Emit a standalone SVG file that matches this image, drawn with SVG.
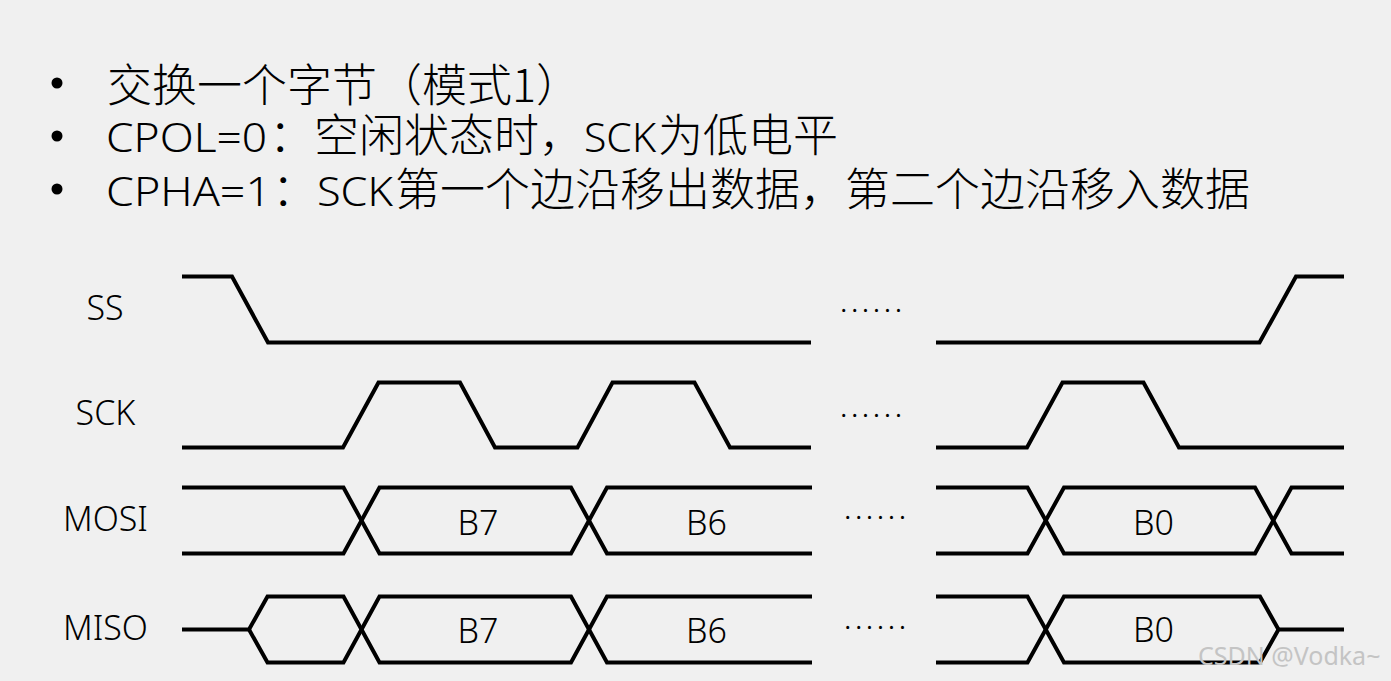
<svg xmlns="http://www.w3.org/2000/svg" width="1391" height="681" viewBox="0 0 1391 681">
<style>
.bg{fill:#f0f0f0}
.t{font-family:"Noto Sans CJK SC","Noto Sans",sans-serif;font-size:45px;fill:#000}
.cjk{font-family:"Noto Sans CJK SC","Noto Sans",sans-serif;font-size:45px;font-weight:300}
.lat{font-family:"Noto Sans","Noto Sans CJK SC",sans-serif;font-size:41px;font-weight:300}
.sig{font-family:"Noto Sans",sans-serif;font-size:34px;font-weight:300;fill:#000;text-anchor:middle}
.dots{font-family:"Noto Sans",sans-serif;font-size:24px;letter-spacing:4.5px;fill:#000}
.wave{fill:none;stroke:#000;stroke-width:4;stroke-linejoin:miter;stroke-linecap:butt}
.wm{font-family:"Noto Sans",sans-serif;font-size:25px;fill:#c4c4c4}
</style>
<rect class="bg" x="0" y="0" width="1391" height="681"/>
<g id="title">
  <circle cx="57" cy="83" r="5.5"/>
  <circle cx="57" cy="136" r="5.5"/>
  <circle cx="57" cy="189" r="5.5"/>
  <text class="t cjk" x="107" y="101.5">交换一个字节（模式1）</text>
  <text class="t" y="152"><tspan class="lat" x="106" textLength="161" lengthAdjust="spacingAndGlyphs">CPOL=0</tspan><tspan class="cjk" x="269">：空闲状态时，</tspan><tspan class="lat" x="584" textLength="72" lengthAdjust="spacingAndGlyphs">SCK</tspan><tspan class="cjk" x="658">为低电平</tspan></text>
  <text class="t" y="205.5"><tspan class="lat" x="106" textLength="165" lengthAdjust="spacingAndGlyphs">CPHA=1</tspan><tspan class="cjk" x="272">：</tspan><tspan class="lat" x="317" textLength="76" lengthAdjust="spacingAndGlyphs">SCK</tspan><tspan class="cjk" x="395">第一个边沿移出数据，第二个边沿移入数据</tspan></text>
</g>
<g id="labels">
  <text class="sig" x="105" y="319.5">SS</text>
  <text class="sig" x="105.5" y="425">SCK</text>
  <text class="sig" x="105.5" y="530.5">MOSI</text>
  <text class="sig" x="105.5" y="640">MISO</text>
</g>
<g id="connectors">
  <g id="ss-wave">
    <path class="wave" d="M182,276.5 H232 L268,342.5 H811"/>
    <path class="wave" d="M936,342.5 H1259.5 L1296,276.5 H1344"/>
  </g>
  <g id="sck-wave">
    <path class="wave" d="M182,447.5 H343 L378.5,382.5 H460 L495,447.5 H577.5 L612.5,382.5 H694.5 L730,447.5 H811"/>
    <path class="wave" d="M936,447.5 H1027 L1062.5,382.5 H1143.5 L1179,447.5 H1344"/>
  </g>
  <g id="mosi-wave">
    <path class="wave" d="M182,487.5 H343.5 L379.5,553.5 H571 L607,487.5 H812"/>
    <path class="wave" d="M182,553.5 H343.5 L379.5,487.5 H571 L607,553.5 H812"/>
    <path class="wave" d="M936,487.5 H1027.5 L1064,553.5 H1255 L1291.5,487.5 H1344"/>
    <path class="wave" d="M936,553.5 H1027.5 L1064,487.5 H1255 L1291.5,553.5 H1344"/>
  </g>
  <g id="miso-wave">
    <path class="wave" d="M182,629.5 H249 L267.5,596.5 H343.5 L379.5,662.5 H571 L607,596.5 H812"/>
    <path class="wave" d="M249,629.5 L267.5,662.5 H343.5 L379.5,596.5 H571 L607,662.5 H812"/>
    <path class="wave" d="M936,596.5 H1027.5 L1064,662.5 H1260 L1278.5,629.5 H1344"/>
    <path class="wave" d="M936,662.5 H1027.5 L1064,596.5 H1260 L1278.5,629.5"/>
  </g>
</g>
<g id="data-labels">
  <text class="sig" x="478" y="535">B7</text>
  <text class="sig" x="706.5" y="534.5">B6</text>
  <text class="sig" x="1153.5" y="534.5">B0</text>
  <text class="sig" x="478" y="643">B7</text>
  <text class="sig" x="706.5" y="643">B6</text>
  <text class="sig" x="1153.5" y="642">B0</text>
</g>
<g id="ellipses">
  <text class="dots" x="840.5" y="312">......</text>
  <text class="dots" x="840.5" y="416.5">......</text>
  <text class="dots" x="844.5" y="519">......</text>
  <text class="dots" x="844.5" y="629">......</text>
</g>
<text class="wm" x="1198" y="665">CSDN @Vodka~</text>
</svg>
